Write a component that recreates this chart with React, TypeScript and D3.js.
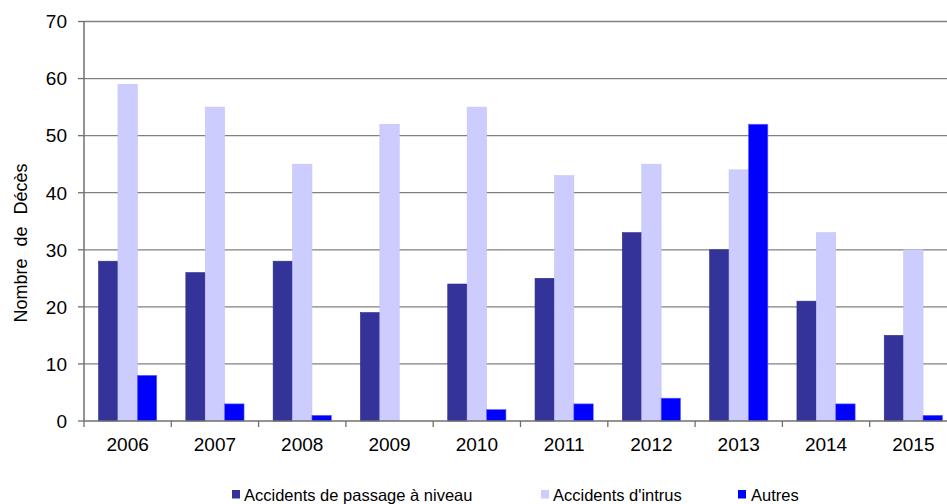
import React from "react";
import * as d3 from "d3";

const years = ["2006", "2007", "2008", "2009", "2010", "2011", "2012", "2013", "2014", "2015"];
const passage = [28, 26, 28, 19, 24, 25, 33, 30, 21, 15];
const intrus = [59, 55, 45, 52, 55, 43, 45, 44, 33, 30];
const autres = [8, 3, 1, 0, 2, 3, 4, 52, 3, 1];
const seriesNames = ["Accidents de passage à niveau", "Accidents d'intrus", "Autres"];
const seriesColors = ["#333399", "#CCCCFF", "#0000FF"];
const yTicks = [0, 10, 20, 30, 40, 50, 60, 70];

const W = 947;
const H = 504;
const left = 84;
const right = 957;
const top = 21.5;
const bottom = 421;
const font = "'Liberation Sans', Arial, sans-serif";

export default function App() {
  const series = [passage, intrus, autres];
  const x = d3.scaleBand<string>().domain(years).range([left, right]).paddingInner(0).paddingOuter(0);
  const bw = x.bandwidth();
  const barW = bw / 4.5;
  const y = d3.scaleLinear().domain([0, 70]).range([bottom, top]);

  const legendItems = [
    { mx: 232, tx: 244 },
    { mx: 541, tx: 553 },
    { mx: 738, tx: 751 },
  ];

  return (
    <svg width={W} height={H} style={{ position: "absolute", left: 0, top: 0, background: "#fff" }}>
      {yTicks.map((t) => (
        <g key={t}>
          {t > 0 && <line x1={left} x2={W} y1={y(t)} y2={y(t)} stroke="#808080" strokeWidth={1.3} />}
          <line x1={left - 6} x2={left} y1={y(t)} y2={y(t)} stroke="#707070" strokeWidth={1.3} />
          <text x={67} y={y(t)} dy="0.36em" textAnchor="end" fontFamily={font} fontSize={19} fill="#000">
            {t}
          </text>
        </g>
      ))}
      {years.map((yr, i) => (
        <g key={yr}>
          {series.map((s, k) => {
            const x0 = (x(yr) as number) + (bw - 3 * barW) / 2 + k * barW;
            return (
              <rect
                key={k}
                x={x0}
                y={y(s[i])}
                width={barW}
                height={bottom - y(s[i])}
                fill={seriesColors[k]}
                stroke={k === 0 ? "#2a2a88" : k === 2 ? "#6666ff" : "#c4c4f8"}
                strokeWidth={0.6}
              />
            );
          })}
          <text
            x={(x(yr) as number) + bw / 2}
            y={451}
            textAnchor="middle"
            fontFamily={font}
            fontSize={19}
            fill="#000"
          >
            {yr}
          </text>
        </g>
      ))}
      {d3.range(years.length + 1).map((i) => (
        <line key={i} x1={left + i * bw} x2={left + i * bw} y1={bottom} y2={bottom + 6} stroke="#707070" strokeWidth={1.3} />
      ))}
      <line x1={left} x2={W} y1={bottom} y2={bottom} stroke="#707070" strokeWidth={1.5} />
      <line x1={left} x2={left} y1={top} y2={bottom} stroke="#707070" strokeWidth={1.5} />
      <text
        transform={`translate(26.5,243) rotate(-90)`}
        textAnchor="middle"
        fontFamily={font}
        fontSize={18}
        fill="#000"
        style={{ wordSpacing: "7px" }}
      >
        Nombre de Décès
      </text>
      {seriesNames.map((n, k) => (
        <g key={n}>
          <rect x={legendItems[k].mx} y={490} width={8} height={8.5} fill={seriesColors[k]} />
          <text x={legendItems[k].tx} y={501} fontFamily={font} fontSize={16.5} fill="#000">
            {n}
          </text>
        </g>
      ))}
    </svg>
  );
}
